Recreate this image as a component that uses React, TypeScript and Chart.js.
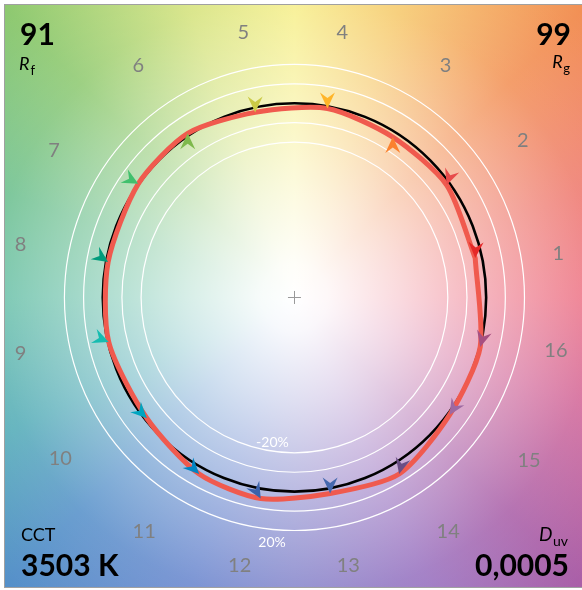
import React, { useEffect, useRef } from 'react';
import { Chart, registerables } from 'chart.js';

Chart.register(...registerables);

// ---------- data ----------
const hueBins = ['1', '2', '3', '4', '5', '6', '7', '8', '9', '10', '11', '12', '13', '14', '15', '16'];
// normalized test-source chromaticity per hue bin (reference circle radius = 1)
const testA = [0.943, 0.794, 0.513, 0.172, -0.205, -0.557, -0.815, -0.972, -0.969, -0.770, -0.497, -0.176, 0.186, 0.546, 0.809, 0.969];
const testB = [0.203, 0.579, 0.826, 0.973, 0.953, 0.845, 0.585, 0.183, -0.229, -0.622, -0.909, -1.035, -1.009, -0.909, -0.605, -0.255];
// direction of each colour vector (degrees, counter-clockwise from +a')
const vectorAngle = [-93, -110, 90, -90, -90, 90, -29, -34, -22, -45, -45, -60, -90, -104, -122, -105];
const gridRings = [0.8, 0.9, 1.1, 1.2];
const ringLabels = ['-20%', '20%'];
const fidelityIndex = '91';
const gamutIndex = '99';
const cctValue = '3503 K';
const duvValue = '0,0005';

// ---------- styles / layout ----------
const BIN_COLORS = ['#e62828', '#e74b4b', '#fb812e', '#ffb529', '#cbca46', '#7eb94c', '#41c06d', '#009c7c',
  '#16bcb0', '#00a4bf', '#0085c3', '#3b62aa', '#4568ae', '#6a4e85', '#9d69a1', '#a74f81'];
const HUE_LABEL_POS: [number, number][] = [
  [1.376, 0.230], [1.191, 0.815], [0.788, 1.199], [0.25, 1.367], [-0.267, 1.367], [-0.815, 1.199],
  [-1.2545, 0.7626], [-1.429, 0.2765], [-1.429, -0.2819], [-1.2217, -0.826], [-0.784, -1.2], [-0.286, -1.377],
  [0.281, -1.377], [0.802, -1.2], [1.224, -0.835], [1.364, -0.266],
];
const HUE_STOPS: [number, string][] = [
  [0, 'rgb(236,108,128)'], [20, 'rgb(238,118,108)'], [45, 'rgb(242,142,82)'], [70, 'rgb(246,200,105)'],
  [90, 'rgb(246,238,132)'], [110, 'rgb(212,226,122)'], [135, 'rgb(140,200,110)'], [160, 'rgb(105,190,140)'],
  [180, 'rgb(100,190,165)'], [205, 'rgb(80,170,182)'], [225, 'rgb(82,142,200)'], [250, 'rgb(102,132,205)'],
  [270, 'rgb(126,126,200)'], [295, 'rgb(150,110,190)'], [315, 'rgb(168,92,166)'], [340, 'rgb(210,100,150)'],
];
const FONT = 'Lato, "Open Sans", sans-serif';

function geom(chart: any) {
  const xs = chart.scales.x;
  const ys = chart.scales.y;
  const cx = xs.getPixelForValue(0);
  const cy = ys.getPixelForValue(0);
  const sx = xs.getPixelForValue(1) - cx;
  const sy = cy - ys.getPixelForValue(1);
  return { xs, ys, cx, cy, sx, sy };
}

const backgroundPlugin = {
  id: 'tmBackground',
  beforeDatasetsDraw(chart: any) {
    const { ctx, chartArea: ca } = chart;
    const { xs, ys, cx, cy, sx, sy } = geom(chart);
    ctx.save();
    ctx.fillStyle = '#ffffff';
    ctx.fillRect(0, 0, chart.width, chart.height);
    const w = ca.right - ca.left;
    const h = ca.bottom - ca.top;
    const g = ctx.createConicGradient(0, cx, cy);
    HUE_STOPS.forEach(([deg, col]) => {
      const p = ((360 - deg) % 360) / 360;
      g.addColorStop(p, col);
      if (deg === 0) g.addColorStop(1, col);
    });
    ctx.fillStyle = g;
    ctx.fillRect(ca.left, ca.top, w, h);
    const rg = ctx.createRadialGradient(cx, cy, 0, cx, cy, 420);
    rg.addColorStop(0, 'rgba(255,255,255,1)');
    rg.addColorStop(0.08, 'rgba(255,255,255,0.95)');
    rg.addColorStop(0.25, 'rgba(255,255,255,0.75)');
    rg.addColorStop(0.48, 'rgba(255,255,255,0.45)');
    rg.addColorStop(0.72, 'rgba(255,255,255,0.15)');
    rg.addColorStop(1, 'rgba(255,255,255,0)');
    ctx.fillStyle = rg;
    ctx.fillRect(ca.left, ca.top, w, h);
    ctx.strokeStyle = '#a0a0a0';
    ctx.lineWidth = 1;
    ctx.strokeRect(ca.left - 0.5, ca.top - 0.5, w + 1, h);

    // grid rings
    ctx.strokeStyle = '#ffffff';
    ctx.lineWidth = 1.2;
    gridRings.forEach((r) => {
      ctx.beginPath();
      ctx.ellipse(cx, cy, r * sx, r * sy, 0, 0, Math.PI * 2);
      ctx.stroke();
    });
    // reference circle
    ctx.strokeStyle = '#000000';
    ctx.lineWidth = 2.6;
    ctx.beginPath();
    ctx.ellipse(cx, cy, sx, sy, 0, 0, Math.PI * 2);
    ctx.stroke();
    // centre cross
    ctx.strokeStyle = '#9a9a9a';
    ctx.lineWidth = 1;
    ctx.beginPath();
    ctx.moveTo(cx - 6.5, Math.round(cy) + 0.5);
    ctx.lineTo(cx + 6.5, Math.round(cy) + 0.5);
    ctx.moveTo(Math.round(cx) + 0.5, cy - 6.5);
    ctx.lineTo(Math.round(cx) + 0.5, cy + 6.5);
    ctx.stroke();
    // ring labels
    ctx.fillStyle = '#ffffff';
    ctx.font = `14px ${FONT}`;
    ctx.textAlign = 'center';
    ctx.textBaseline = 'middle';
    ctx.fillText(ringLabels[0], xs.getPixelForValue(-0.115), ys.getPixelForValue(-0.745));
    ctx.fillText(ringLabels[1], xs.getPixelForValue(-0.117), ys.getPixelForValue(-1.262));
    // hue bin labels
    ctx.fillStyle = '#808080';
    ctx.font = `20px ${FONT}`;
    hueBins.forEach((lab, i) => {
      const [u, v] = HUE_LABEL_POS[i];
      ctx.fillText(lab, xs.getPixelForValue(u), ys.getPixelForValue(v) + 1);
    });
    ctx.restore();
  },
  afterDatasetsDraw(chart: any) {
    const { ctx } = chart;
    const { xs, ys } = geom(chart);
    ctx.save();
    // arrowheads at the test points
    hueBins.forEach((_, i) => {
      const tx = xs.getPixelForValue(testA[i]);
      const ty = ys.getPixelForValue(testB[i]);
      const a = (vectorAngle[i] * Math.PI) / 180;
      const dx = Math.cos(a);
      const dy = -Math.sin(a);
      const nx = -dy;
      const ny = dx;
      const L = 16;
      const W = 7.5;
      const N = 10.5;
      const bx = tx - dx * L;
      const by = ty - dy * L;
      ctx.fillStyle = BIN_COLORS[i];
      ctx.beginPath();
      ctx.moveTo(tx, ty);
      ctx.lineTo(bx + nx * W, by + ny * W);
      ctx.lineTo(tx - dx * N, ty - dy * N);
      ctx.lineTo(bx - nx * W, by - ny * W);
      ctx.closePath();
      ctx.fill();
    });

    // corner texts
    ctx.fillStyle = '#000000';
    ctx.textBaseline = 'alphabetic';
    ctx.textAlign = 'left';
    ctx.font = `bold 30px ${FONT}`;
    ctx.fillText(fidelityIndex, 20, 45);
    ctx.font = `italic 18px ${FONT}`;
    ctx.fillText('R', 19, 70);
    const rw = ctx.measureText('R').width;
    ctx.font = `13px ${FONT}`;
    ctx.fillText('f', 19 + rw + 1, 75);

    ctx.textAlign = 'right';
    ctx.font = `bold 30px ${FONT}`;
    ctx.fillText(gamutIndex, 571, 45);
    ctx.font = `13px ${FONT}`;
    const gw = ctx.measureText('g').width;
    ctx.fillText('g', 570, 73);
    ctx.font = `italic 18px ${FONT}`;
    ctx.fillText('R', 570 - gw - 0.5, 68);

    ctx.textAlign = 'left';
    ctx.font = `18px ${FONT}`;
    ctx.fillText('CCT', 21, 541);
    ctx.font = `bold 30px ${FONT}`;
    ctx.fillText(cctValue, 21, 576);

    ctx.textAlign = 'right';
    ctx.font = `14px ${FONT}`;
    const uw = ctx.measureText('uv').width;
    ctx.fillText('uv', 568, 546);
    ctx.font = `italic 19px ${FONT}`;
    ctx.fillText('D', 568 - uw - 0.5, 541);
    ctx.font = `bold 30px ${FONT}`;
    ctx.fillText(duvValue, 569, 576);
    ctx.restore();
  },
};

export default function App() {
  const ref = useRef<HTMLCanvasElement>(null);
  useEffect(() => {
    const pts = testA.map((a, i) => ({ x: a, y: testB[i] }));
    pts.push({ x: testA[0], y: testB[0] });
    const chart = new Chart(ref.current as HTMLCanvasElement, {
      type: 'scatter',
      data: {
        datasets: [
          {
            data: pts,
            showLine: true,
            borderColor: '#f05a4e',
            borderWidth: 5,
            pointRadius: 0,
            tension: 0.25,
            fill: false,
            borderJoinStyle: 'round',
            borderCapStyle: 'round',
          } as any,
        ],
      },
      options: {
        animation: false,
        responsive: false,
        events: [],
        layout: { padding: { left: 5, top: 5, right: 0, bottom: 2 } },
        scales: {
          x: { type: 'linear', display: false, min: -1.51, max: 1.5 },
          y: { type: 'linear', display: false, min: -1.496, max: 1.506 },
        },
        plugins: { legend: { display: false }, tooltip: { enabled: false } },
      },
      plugins: [backgroundPlugin],
    });
    return () => chart.destroy();
  }, []);
  return (
    <div style={{ position: 'absolute', left: 0, top: 0, width: 582, height: 590 }}>
      <canvas ref={ref} width={582} height={590} style={{ display: 'block', width: 582, height: 590 }} />
    </div>
  );
}
